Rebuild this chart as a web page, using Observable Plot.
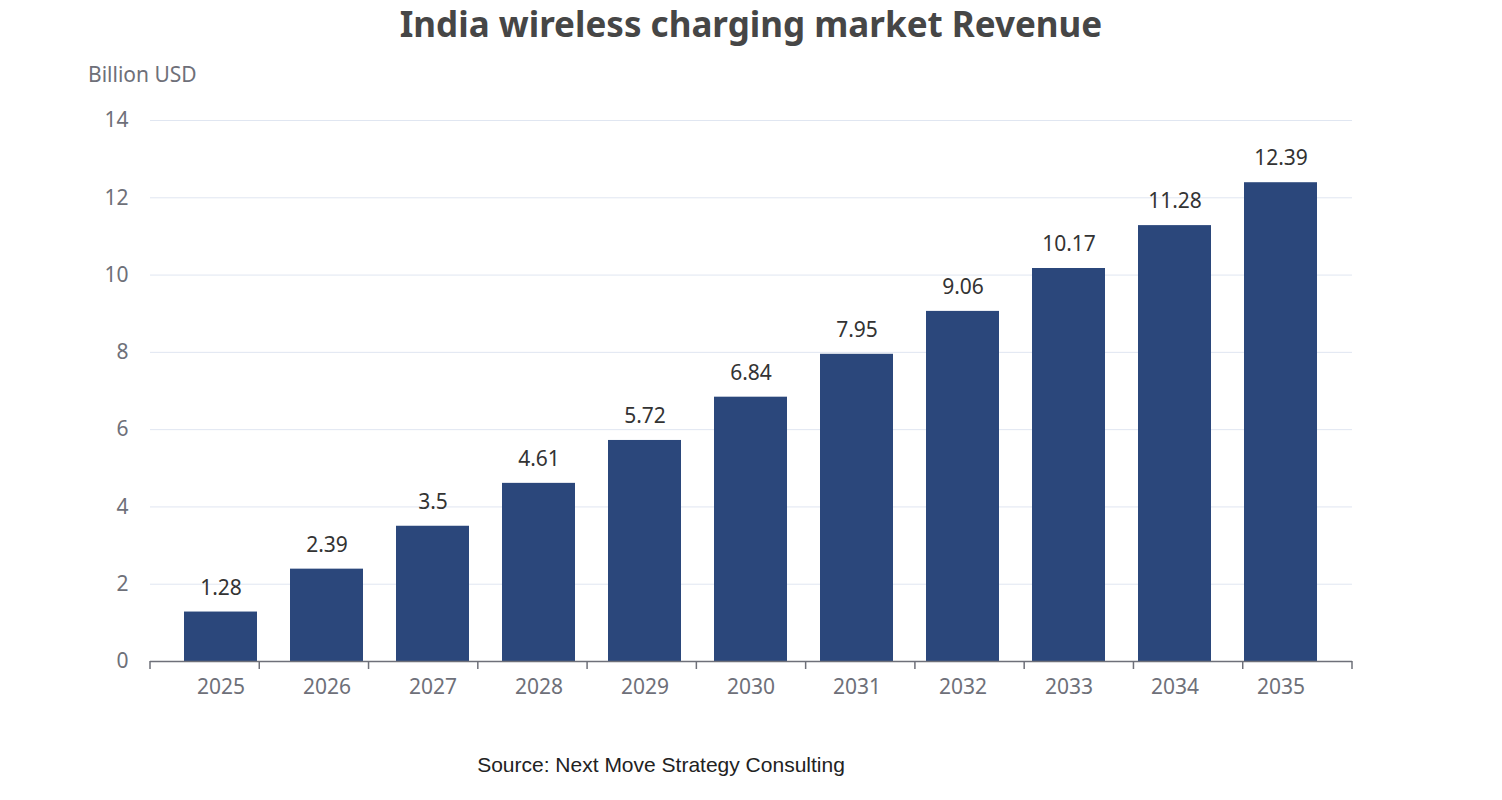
<!DOCTYPE html>
<html><head><meta charset="utf-8">
<script src="https://cdn.jsdelivr.net/npm/d3@7"></script>
<script src="https://cdn.jsdelivr.net/npm/@observablehq/plot@0.6"></script>
<style>
body{margin:0;width:1502px;height:800px;position:relative;background:#fff;font-family:"Noto Sans","Open Sans",sans-serif;}
.t{position:absolute;white-space:nowrap}
</style></head><body>
<div id="chart"></div>
<div class="t" style="left:0;width:1502px;top:0;text-align:center;font-size:35px;font-weight:bold;color:#464646">India wireless charging market Revenue</div>
<div class="t" style="left:88px;top:60px;font-size:21px;color:#6e7079">Billion USD</div>
<div class="t" style="left:0;width:1322px;top:753px;text-align:center;font-size:21px;color:#222;font-family:'Liberation Sans',Arial,sans-serif">Source: Next Move Strategy Consulting</div>
<script>
const years = ["2025","2026","2027","2028","2029","2030","2031","2032","2033","2034","2035"];
const values = [1.28,2.39,3.5,4.61,5.72,6.84,7.95,9.06,10.17,11.28,12.39];
const yTicks = [0,2,4,6,8,10,12,14];
const data = years.map((y,i)=>({year:y,value:values[i]}));
const plot = Plot.plot({
  width:1502, height:800,
  marginLeft:150, marginRight:150, marginTop:120, marginBottom:139,
  style:{fontFamily:"'Noto Sans','Open Sans',sans-serif", fontSize:"21px", color:"#6e7079", background:"#fff"},
  x:{domain:years, padding:0.31, label:null},
  y:{domain:[0,14], ticks:yTicks, label:null},
  marks:[
    Plot.gridY(yTicks.filter(d=>d>0),{stroke:"#e0e6f1", strokeOpacity:1}),
    Plot.axisY({ticks:yTicks, tickSize:0, tickPadding:22, label:null, fill:"#6e7079", fontSize:21}),
    Plot.axisX({tickSize:0, tickPadding:18, label:null, fill:"#6e7079", fontSize:21}),
    Plot.barY(data,{x:"year", y:"value", fill:"#2b477b"}),
    Plot.text(data,{x:"year", y:"value", text:d=>String(d.value), dy:-24, fill:"#333", fontSize:21}),
    Plot.ruleY([0],{stroke:"#6e7079", strokeWidth:1.5})
  ]
});
const xs = plot.scale("x");
const ys = plot.scale("y");
const step = xs.step;
const start = xs.apply(years[0]) - xs.bandwidth/2 - step*0.31/2*0 ;
const svg = d3.select(plot);
const x0 = 150, w = (1502-150-150)/years.length, y0 = ys.apply(0);
for(let i=0;i<=years.length;i++){
  svg.append("line").attr("x1",x0+i*w).attr("x2",x0+i*w).attr("y1",y0).attr("y2",y0+8)
    .attr("stroke","#6e7079").attr("stroke-width",1.5);
}
document.getElementById("chart").appendChild(plot);
</script>
</body></html>
